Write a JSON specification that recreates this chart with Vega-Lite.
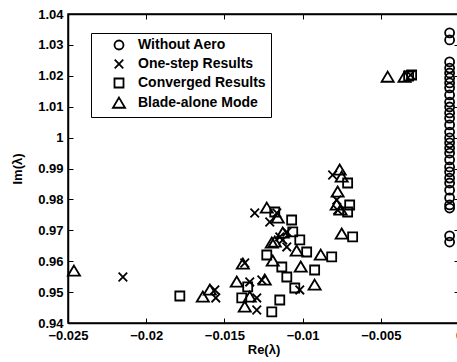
{
  "$schema": "https://vega.github.io/schema/vega-lite/v6.json",
  "width": 391,
  "height": 309,
  "autosize": {"type": "none"},
  "padding": {"left": 68, "top": 14, "right": 0, "bottom": 39},
  "background": "white",
  "config": {
    "font": "Liberation Sans",
    "view": {"stroke": "black", "strokeWidth": 1.5},
    "axis": {
      "domainColor": "black", "domainWidth": 1.5, "tickColor": "black", "tickWidth": 1,
      "labelFont": "Liberation Sans", "labelFontWeight": "bold", "labelFontSize": 13, "labelColor": "black",
      "titleFont": "Liberation Sans", "titleFontWeight": "bold", "titleFontSize": 13, "titleColor": "black",
      "grid": false
    },
    "legend": {
      "strokeColor": "black", "fillColor": "white", "padding": 5,
      "labelFont": "Liberation Sans", "labelFontWeight": "bold", "labelFontSize": 14, "labelColor": "black",
      "symbolSize": 81, "symbolStrokeWidth": 1.8, "symbolStrokeColor": "black",
      "rowPadding": 2, "symbolOffset": 16, "labelOffset": 12
    }
  },
  "data": {"values": [
    {"series": "Without Aero", "re": -0.0006, "im": 1.0339},
    {"series": "Without Aero", "re": -0.0006, "im": 1.0316},
    {"series": "Without Aero", "re": -0.0006, "im": 1.0245},
    {"series": "Without Aero", "re": -0.0006, "im": 1.0225},
    {"series": "Without Aero", "re": -0.0006, "im": 1.0209},
    {"series": "Without Aero", "re": -0.0006, "im": 1.0193},
    {"series": "Without Aero", "re": -0.0006, "im": 1.0177},
    {"series": "Without Aero", "re": -0.0006, "im": 1.0161},
    {"series": "Without Aero", "re": -0.0006, "im": 1.0138},
    {"series": "Without Aero", "re": -0.0006, "im": 1.0115},
    {"series": "Without Aero", "re": -0.0006, "im": 1.0099},
    {"series": "Without Aero", "re": -0.0006, "im": 1.008},
    {"series": "Without Aero", "re": -0.0006, "im": 1.0063},
    {"series": "Without Aero", "re": -0.0006, "im": 1.0041},
    {"series": "Without Aero", "re": -0.0006, "im": 1.0018},
    {"series": "Without Aero", "re": -0.0006, "im": 0.9999},
    {"series": "Without Aero", "re": -0.0006, "im": 0.9983},
    {"series": "Without Aero", "re": -0.0006, "im": 0.9966},
    {"series": "Without Aero", "re": -0.0006, "im": 0.995},
    {"series": "Without Aero", "re": -0.0006, "im": 0.9928},
    {"series": "Without Aero", "re": -0.0006, "im": 0.9905},
    {"series": "Without Aero", "re": -0.0006, "im": 0.9889},
    {"series": "Without Aero", "re": -0.0006, "im": 0.9869},
    {"series": "Without Aero", "re": -0.0006, "im": 0.9853},
    {"series": "Without Aero", "re": -0.0006, "im": 0.983},
    {"series": "Without Aero", "re": -0.0006, "im": 0.9805},
    {"series": "Without Aero", "re": -0.0006, "im": 0.9782},
    {"series": "Without Aero", "re": -0.0006, "im": 0.9772},
    {"series": "Without Aero", "re": -0.0006, "im": 0.9682},
    {"series": "Without Aero", "re": -0.0006, "im": 0.9662},
    {"series": "One-step Results", "re": -0.02149, "im": 0.95489},
    {"series": "One-step Results", "re": -0.01561, "im": 0.95069},
    {"series": "One-step Results", "re": -0.01555, "im": 0.9481},
    {"series": "One-step Results", "re": -0.01306, "im": 0.9756},
    {"series": "One-step Results", "re": -0.0121, "im": 0.97269},
    {"series": "One-step Results", "re": -0.0137, "im": 0.95942},
    {"series": "One-step Results", "re": -0.01338, "im": 0.95328},
    {"series": "One-step Results", "re": -0.01261, "im": 0.95392},
    {"series": "One-step Results", "re": -0.01293, "im": 0.9481},
    {"series": "One-step Results", "re": -0.01293, "im": 0.94421},
    {"series": "One-step Results", "re": -0.01146, "im": 0.96784},
    {"series": "One-step Results", "re": -0.01101, "im": 0.96946},
    {"series": "One-step Results", "re": -0.01101, "im": 0.9646},
    {"series": "One-step Results", "re": -0.01018, "im": 0.95069},
    {"series": "One-step Results", "re": -0.00808, "im": 0.9879},
    {"series": "One-step Results", "re": -0.00782, "im": 0.97981},
    {"series": "One-step Results", "re": -0.00776, "im": 0.97657},
    {"series": "One-step Results", "re": -0.0031, "im": 1.02026},
    {"series": "One-step Results", "re": -0.01127, "im": 0.96687},
    {"series": "One-step Results", "re": -0.01165, "im": 0.9756},
    {"series": "Converged Results", "re": -0.01785, "im": 0.94874},
    {"series": "Converged Results", "re": -0.01389, "im": 0.9481},
    {"series": "Converged Results", "re": -0.01351, "im": 0.95166},
    {"series": "Converged Results", "re": -0.01197, "im": 0.94357},
    {"series": "Converged Results", "re": -0.01146, "im": 0.94745},
    {"series": "Converged Results", "re": -0.01229, "im": 0.96201},
    {"series": "Converged Results", "re": -0.01178, "im": 0.97593},
    {"series": "Converged Results", "re": -0.0107, "im": 0.97334},
    {"series": "Converged Results", "re": -0.01063, "im": 0.96946},
    {"series": "Converged Results", "re": -0.01018, "im": 0.96687},
    {"series": "Converged Results", "re": -0.00974, "im": 0.96298},
    {"series": "Converged Results", "re": -0.01133, "im": 0.95813},
    {"series": "Converged Results", "re": -0.01101, "im": 0.95489},
    {"series": "Converged Results", "re": -0.0105, "im": 0.95133},
    {"series": "Converged Results", "re": -0.00923, "im": 0.95716},
    {"series": "Converged Results", "re": -0.00814, "im": 0.96137},
    {"series": "Converged Results", "re": -0.0068, "im": 0.96784},
    {"series": "Converged Results", "re": -0.00712, "im": 0.98531},
    {"series": "Converged Results", "re": -0.00699, "im": 0.97819},
    {"series": "Converged Results", "re": -0.00712, "im": 0.97593},
    {"series": "Converged Results", "re": -0.00303, "im": 1.02026},
    {"series": "Converged Results", "re": -0.00322, "im": 1.01994},
    {"series": "Blade-alone Mode", "re": -0.02462, "im": 0.95683},
    {"series": "Blade-alone Mode", "re": -0.01638, "im": 0.94842},
    {"series": "Blade-alone Mode", "re": -0.01593, "im": 0.95069},
    {"series": "Blade-alone Mode", "re": -0.01421, "im": 0.95328},
    {"series": "Blade-alone Mode", "re": -0.01382, "im": 0.9591},
    {"series": "Blade-alone Mode", "re": -0.0137, "im": 0.94519},
    {"series": "Blade-alone Mode", "re": -0.01338, "im": 0.94842},
    {"series": "Blade-alone Mode", "re": -0.01242, "im": 0.95392},
    {"series": "Blade-alone Mode", "re": -0.01229, "im": 0.97722},
    {"series": "Blade-alone Mode", "re": -0.01197, "im": 0.9659},
    {"series": "Blade-alone Mode", "re": -0.01191, "im": 0.96007},
    {"series": "Blade-alone Mode", "re": -0.01159, "im": 0.97399},
    {"series": "Blade-alone Mode", "re": -0.01127, "im": 0.96913},
    {"series": "Blade-alone Mode", "re": -0.01038, "im": 0.96331},
    {"series": "Blade-alone Mode", "re": -0.01012, "im": 0.95813},
    {"series": "Blade-alone Mode", "re": -0.00923, "im": 0.9523},
    {"series": "Blade-alone Mode", "re": -0.00884, "im": 0.96201},
    {"series": "Blade-alone Mode", "re": -0.00776, "im": 0.9824},
    {"series": "Blade-alone Mode", "re": -0.00763, "im": 0.98952},
    {"series": "Blade-alone Mode", "re": -0.0075, "im": 0.98725},
    {"series": "Blade-alone Mode", "re": -0.00782, "im": 0.97819},
    {"series": "Blade-alone Mode", "re": -0.00757, "im": 0.97657},
    {"series": "Blade-alone Mode", "re": -0.0075, "im": 0.96881},
    {"series": "Blade-alone Mode", "re": -0.00456, "im": 1.01961},
    {"series": "Blade-alone Mode", "re": -0.00348, "im": 1.01961},
    {"series": "Blade-alone Mode", "re": -0.01178, "im": 0.96622}
  ]},
  "layer": [
    {
      "mark": {"type": "point", "filled": false, "color": "black", "strokeWidth": 1.8, "size": 81, "opacity": 1},
      "encoding": {
        "x": {
          "field": "re", "type": "quantitative",
          "scale": {"domain": [-0.025, 0], "nice": false, "zero": false},
          "axis": {"orient": "bottom", "values": [-0.025, -0.02, -0.015, -0.01, -0.005, 0], "format": "~g",
                   "tickSize": -5, "labelPadding": 11, "title": "Re(λ)", "titlePadding": 1, "labelFlush": false}
        },
        "y": {
          "field": "im", "type": "quantitative",
          "scale": {"domain": [0.94, 1.04], "nice": false, "zero": false},
          "axis": {"orient": "left", "values": [0.94, 0.95, 0.96, 0.97, 0.98, 0.99, 1, 1.01, 1.02, 1.03, 1.04], "format": "~g",
                   "tickSize": -5, "labelPadding": 10, "title": "Im(λ)", "titlePadding": 13, "labelFlush": false}
        },
        "shape": {
          "field": "series", "type": "nominal",
          "scale": {
            "domain": ["Without Aero", "One-step Results", "Converged Results", "Blade-alone Mode"],
            "range": ["circle", "M-0.95,-0.95L0.95,0.95M-0.95,0.95L0.95,-0.95", "square", "M0,-1.2L1.35,1.05L-1.35,1.05Z"]
          },
          "legend": {"title": null, "orient": "none", "legendX": 23, "legendY": 19}
        }
      }
    },
    {
      "mark": {"type": "point", "opacity": 0},
      "encoding": {
        "x": {
          "field": "re", "type": "quantitative",
          "scale": {"domain": [-0.025, 0], "nice": false, "zero": false},
          "axis": {"orient": "top", "values": [-0.025, -0.02, -0.015, -0.01, -0.005, 0], "tickSize": -5, "labels": false, "title": null}
        },
        "y": {
          "field": "im", "type": "quantitative",
          "scale": {"domain": [0.94, 1.04], "nice": false, "zero": false},
          "axis": {"orient": "right", "values": [0.94, 0.95, 0.96, 0.97, 0.98, 0.99, 1, 1.01, 1.02, 1.03, 1.04], "tickSize": -5, "labels": false, "title": null}
        }
      }
    }
  ],
  "resolve": {"axis": {"x": "independent", "y": "independent"}}
}
